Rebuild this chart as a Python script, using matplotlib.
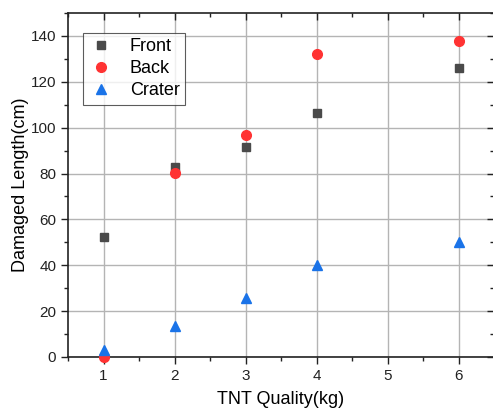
import matplotlib.pyplot as plt
from matplotlib.ticker import MultipleLocator

plt.rcParams['font.family'] = ['Liberation Sans', 'DejaVu Sans']

tnt = [1, 2, 3, 4, 6]
front = [52.3, 82.8, 91.6, 106.4, 126.0]
back = [0.0, 80.1, 97.0, 132.0, 138.0]
crater = [3.2, 13.3, 25.6, 40.2, 50.2]

fig = plt.figure(figsize=(4.93, 4.09), dpi=100)
ax = fig.add_axes([68 / 493, 52 / 409, 426 / 493, 344 / 409])

ax.plot(tnt, front, 's', color='#4a4a4a', ms=6, label='Front', clip_on=False, zorder=3)
ax.plot(tnt, back, 'o', color='#ff3333', ms=7, label='Back', clip_on=False, zorder=3)
ax.plot(tnt, crater, '^', color='#1a73e8', ms=7, label='Crater', clip_on=False, zorder=3)

ax.set_xlim(0.5, 6.5)
ax.set_ylim(0, 150)
ax.xaxis.set_major_locator(MultipleLocator(1))
ax.xaxis.set_minor_locator(MultipleLocator(0.5))
ax.yaxis.set_major_locator(MultipleLocator(20))
ax.yaxis.set_minor_locator(MultipleLocator(10))

ax.grid(True, which='major', color='#b4b4b4', lw=1)
ax.set_axisbelow(True)

ax.tick_params(which='both', direction='out', top=True, right=True,
               labelsize=11, colors='#222222')
ax.tick_params(which='major', length=5, width=1)
ax.tick_params(which='minor', length=3, width=1)
# ticks on the top and right edges point inward
for t in ax.xaxis.get_major_ticks() + ax.xaxis.get_minor_ticks():
    t.tick2line.set_marker(3)
for t in ax.yaxis.get_major_ticks() + ax.yaxis.get_minor_ticks():
    t.tick2line.set_marker(0)

for sp in ax.spines.values():
    sp.set_linewidth(1.2)
    sp.set_color('#222222')

ax.set_xlabel('TNT Quality(kg)', fontsize=13, labelpad=6)
ax.set_ylabel('Damaged Length(cm)', fontsize=13, labelpad=1)

leg = ax.legend(loc='upper left', bbox_to_anchor=(0.035, 0.943), fontsize=13,
                frameon=True, fancybox=False, edgecolor='#333333',
                handletextpad=0.9, borderpad=0.3, labelspacing=0.28,
                handlelength=1.4, borderaxespad=0)
leg.get_frame().set_linewidth(0.8)

fig.savefig('out.png', dpi=100)
